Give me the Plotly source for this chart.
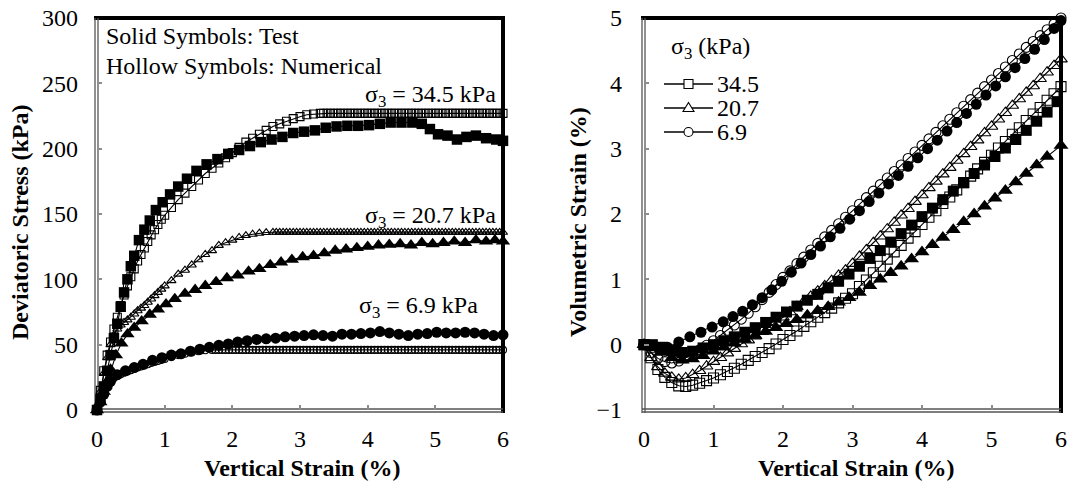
import plotly.graph_objects as go

# ---------------- data : deviatoric stress (kPa) vs vertical strain (%) ----------------
# numerical model (hollow symbols)
NUM345_X = [0, 0.05, 0.1, 0.15, 0.2, 0.25, 0.3, 0.35, 0.4, 0.45,
            0.5, 0.55, 0.6, 0.65, 0.7, 0.75, 0.8, 0.85, 0.9, 0.95,
            1.0, 1.1, 1.2, 1.3, 1.4, 1.5, 1.6, 1.7, 1.8, 1.9,
            2.0, 2.1, 2.2, 2.3, 2.4, 2.5, 2.6, 2.7, 2.8, 2.9,
            3.0, 3.1, 3.2, 3.3,
            3.35, 3.40, 3.45, 3.50, 3.55, 3.60, 3.65, 3.70, 3.75, 3.80,
            3.85, 3.90, 3.95, 4.00, 4.05, 4.10, 4.15, 4.20, 4.25, 4.30,
            4.35, 4.40, 4.45, 4.50, 4.55, 4.60, 4.65, 4.70, 4.75, 4.80,
            4.85, 4.90, 4.95, 5.00, 5.05, 5.10, 5.15, 5.20, 5.25, 5.30,
            5.35, 5.40, 5.45, 5.50, 5.55, 5.60, 5.65, 5.70, 5.75, 5.80,
            5.85, 5.90, 5.95, 6.00]
NUM345_Y = [0, 15, 30, 42, 52, 62, 71, 80, 88, 95,
            102, 108, 114, 119, 124, 129, 134, 138, 142, 146,
            149, 155, 161, 166, 171, 176, 181, 185, 189, 193,
            197, 201, 205, 208, 211, 214, 217, 219, 221, 223,
            224.5, 226, 226.5, 227,
            227, 227, 227, 227, 227, 227, 227, 227, 227, 227,
            227, 227, 227, 227, 227, 227, 227, 227, 227, 227,
            227, 227, 227, 227, 227, 227, 227, 227, 227, 227,
            227, 227, 227, 227, 227, 227, 227, 227, 227, 227,
            227, 227, 227, 227, 227, 227, 227, 227, 227, 227,
            227, 227, 227, 227]

NUM207_X = [0, 0.05, 0.1, 0.15, 0.2, 0.25, 0.3, 0.35, 0.4, 0.45,
            0.5, 0.55, 0.6, 0.65, 0.7, 0.75, 0.8, 0.85, 0.9, 0.95,
            1.0, 1.1, 1.2, 1.3, 1.4, 1.5, 1.6, 1.7, 1.8, 1.9,
            2.0, 2.1, 2.2, 2.3, 2.4, 2.5, 2.6,
            2.65, 2.70, 2.75, 2.80, 2.85, 2.90, 2.95, 3.00, 3.05, 3.10,
            3.15, 3.20, 3.25, 3.30,
            3.35, 3.40, 3.45, 3.50, 3.55, 3.60, 3.65, 3.70, 3.75, 3.80,
            3.85, 3.90, 3.95, 4.00, 4.05, 4.10, 4.15, 4.20, 4.25, 4.30,
            4.35, 4.40, 4.45, 4.50, 4.55, 4.60, 4.65, 4.70, 4.75, 4.80,
            4.85, 4.90, 4.95, 5.00, 5.05, 5.10, 5.15, 5.20, 5.25, 5.30,
            5.35, 5.40, 5.45, 5.50, 5.55, 5.60, 5.65, 5.70, 5.75, 5.80,
            5.85, 5.90, 5.95, 6.00]
NUM207_Y = [0, 14, 28, 40, 50, 57, 62, 65, 67, 69,
            71, 73.5, 76, 78, 80, 82.5, 85, 87.5, 90, 92.5,
            95, 99, 104, 107, 111, 115, 119, 122, 126, 128,
            130, 132, 133.5, 134.5, 135.3, 135.8, 136,
            136, 136, 136, 136, 136, 136, 136, 136, 136, 136,
            136, 136, 136, 136,
            136, 136, 136, 136, 136, 136, 136, 136, 136, 136,
            136, 136, 136, 136, 136, 136, 136, 136, 136, 136,
            136, 136, 136, 136, 136, 136, 136, 136, 136, 136,
            136, 136, 136, 136, 136, 136, 136, 136, 136, 136,
            136, 136, 136, 136, 136, 136, 136, 136, 136, 136,
            136, 136, 136, 136]

NUM69_X = [0, 0.05, 0.1, 0.15, 0.2, 0.25, 0.3, 0.35, 0.4, 0.45,
           0.5, 0.55, 0.6, 0.65, 0.7, 0.75, 0.8, 0.85, 0.9, 0.95,
           1.0, 1.1, 1.2, 1.3, 1.4, 1.5, 1.6, 1.7,
           1.75, 1.80, 1.85, 1.90, 1.95, 2.00, 2.05, 2.10, 2.15, 2.20,
           2.25, 2.30, 2.35, 2.40, 2.45, 2.50, 2.55, 2.60,
           2.65, 2.70, 2.75, 2.80, 2.85, 2.90, 2.95, 3.00, 3.05, 3.10,
           3.15, 3.20, 3.25, 3.30,
           3.35, 3.40, 3.45, 3.50, 3.55, 3.60, 3.65, 3.70, 3.75, 3.80,
           3.85, 3.90, 3.95, 4.00, 4.05, 4.10, 4.15, 4.20, 4.25, 4.30,
           4.35, 4.40, 4.45, 4.50, 4.55, 4.60, 4.65, 4.70, 4.75, 4.80,
           4.85, 4.90, 4.95, 5.00, 5.05, 5.10, 5.15, 5.20, 5.25, 5.30,
           5.35, 5.40, 5.45, 5.50, 5.55, 5.60, 5.65, 5.70, 5.75, 5.80,
           5.85, 5.90, 5.95, 6.00]
NUM69_Y = [0, 7, 13, 18, 22, 24.5, 26, 27.3, 28.5, 29.5,
           30.5, 31.5, 32.5, 33.3, 34, 35, 36, 36.8, 37.5, 38.3,
           39, 40.5, 42, 43, 44, 45, 45.7, 46,
           46, 46, 46, 46, 46, 46, 46, 46, 46, 46,
           46, 46, 46, 46, 46, 46, 46, 46,
           46, 46, 46, 46, 46, 46, 46, 46, 46, 46,
           46, 46, 46, 46,
           46, 46, 46, 46, 46, 46, 46, 46, 46, 46,
           46, 46, 46, 46, 46, 46, 46, 46, 46, 46,
           46, 46, 46, 46, 46, 46, 46, 46, 46, 46,
           46, 46, 46, 46, 46, 46, 46, 46, 46, 46,
           46, 46, 46, 46, 46, 46, 46, 46, 46, 46,
           46, 46, 46, 46]

# triaxial tests (solid symbols)
TEST345_X = [0, 0.05, 0.1, 0.15, 0.2, 0.25, 0.3, 0.35, 0.4, 0.45,
             0.5, 0.55, 0.62, 0.7, 0.78, 0.87, 0.97, 1.08, 1.2, 1.33,
             1.47, 1.62, 1.78, 1.94, 2.1, 2.26, 2.42, 2.58, 2.74, 2.9,
             3.06, 3.22, 3.38, 3.54, 3.7, 3.86, 4.02, 4.18, 4.34, 4.5,
             4.66, 4.8, 4.92, 5.04, 5.18, 5.32, 5.46, 5.6, 5.75, 5.9, 6.0]
TEST345_Y = [0, 8, 18, 30, 42, 55, 66, 79, 90, 100,
             110, 118, 130, 138, 145, 153, 159, 165, 171, 177,
             183, 188, 192, 196, 199, 202, 205, 207, 209, 212,
             213, 214, 216, 217, 217.5, 217.5, 218, 219, 220, 220,
             220, 219, 215, 211, 210, 207, 209, 210, 208, 207, 206]

TEST207_X = [0, 0.05, 0.1, 0.15, 0.2, 0.28, 0.36, 0.45, 0.55, 0.66,
             0.78, 0.9, 1.02, 1.15, 1.3, 1.45, 1.6, 1.76, 1.92, 2.08,
             2.24, 2.4, 2.56, 2.72, 2.88, 3.04, 3.2, 3.36, 3.52, 3.68,
             3.84, 4.0, 4.16, 4.32, 4.48, 4.64, 4.8, 4.96, 5.12, 5.28,
             5.44, 5.6, 5.75, 5.88, 6.0]
TEST207_Y = [0, 6, 14, 22, 31, 42, 51, 58, 63, 68,
             73, 77, 81, 85, 89, 92, 95, 98, 101, 103,
             106, 108, 111, 113, 115, 117, 118, 120, 122, 123,
             124, 125, 126, 126.5, 127, 126, 128, 127, 128, 129,
             128, 130, 129, 130, 129]

TEST69_X = [0, 0.05, 0.1, 0.15, 0.2, 0.3, 0.42, 0.55, 0.68, 0.82,
            0.96, 1.1, 1.24, 1.38, 1.52, 1.66, 1.8, 1.94, 2.08, 2.22,
            2.36, 2.5, 2.64, 2.78, 2.92, 3.06, 3.2, 3.34, 3.48, 3.62,
            3.76, 3.9, 4.04, 4.18, 4.32, 4.46, 4.6, 4.74, 4.88, 5.02,
            5.16, 5.3, 5.44, 5.58, 5.72, 5.86, 6.0]
TEST69_Y = [0, 6, 12, 18, 22, 27, 30, 32.5, 35, 38,
            40, 42, 43, 45, 46.5, 48, 49.5, 50.5, 52, 53,
            54, 54.5, 55, 56, 56.5, 57, 57.5, 57, 56.5, 58,
            58, 58.5, 59, 60, 59, 58, 57, 58, 58.5, 59.5,
            59, 59, 59.5, 59, 58, 57, 57.5]

# ---------------- data : volumetric strain (%) vs vertical strain (%) ----------------
VNUM_X = [0, 0.1, 0.2, 0.3, 0.4, 0.5, 0.6, 0.7, 0.8, 0.9,
          1.0, 1.1, 1.2, 1.3, 1.4, 1.5, 1.6, 1.7, 1.8, 1.9,
          2.0, 2.1, 2.2, 2.3, 2.4, 2.5, 2.6, 2.7, 2.8, 2.9,
          3.0, 3.1, 3.2, 3.3, 3.4, 3.5, 3.6, 3.7, 3.8, 3.9,
          4.0, 4.1, 4.2, 4.3, 4.4, 4.5, 4.6, 4.7, 4.8, 4.9,
          5.0, 5.1, 5.2, 5.3, 5.4, 5.5, 5.6, 5.7, 5.8, 5.9,
          6.0]
VNUM345_Y = [0, -0.2, -0.38, -0.5, -0.58, -0.63, -0.64, -0.62, -0.59, -0.55,
             -0.51, -0.46, -0.41, -0.36, -0.3, -0.24, -0.18, -0.12, -0.06, 0.01,
             0.08, 0.14, 0.21, 0.28, 0.35, 0.42, 0.49, 0.56, 0.64, 0.71,
             0.78, 0.89, 0.99, 1.1, 1.2, 1.31, 1.42, 1.52, 1.63, 1.73,
             1.84, 1.95, 2.05, 2.16, 2.26, 2.37, 2.48, 2.58, 2.69, 2.79,
             2.9, 3.01, 3.11, 3.22, 3.32, 3.43, 3.53, 3.63, 3.74, 3.84,
             3.95]
VNUM207_Y = [0, -0.2, -0.34, -0.44, -0.5, -0.53, -0.51, -0.46, -0.4, -0.33,
             -0.26, -0.2, -0.13, -0.06, 0.01, 0.07, 0.13, 0.2, 0.27, 0.34,
             0.42, 0.5, 0.58, 0.66, 0.74, 0.82, 0.9, 0.98, 1.06, 1.14,
             1.24, 1.35, 1.45, 1.56, 1.66, 1.77, 1.87, 1.98, 2.08, 2.19,
             2.29, 2.4, 2.5, 2.61, 2.71, 2.82, 2.92, 3.03, 3.13, 3.24,
             3.34, 3.45, 3.55, 3.66, 3.76, 3.86, 3.96, 4.07, 4.17, 4.27,
             4.37]
VNUM69_Y = [0, -0.12, -0.21, -0.26, -0.28, -0.25, -0.2, -0.14, -0.08, -0.01,
            0.06, 0.14, 0.22, 0.3, 0.39, 0.48, 0.58, 0.69, 0.8, 0.92,
            1.03, 1.13, 1.24, 1.34, 1.45, 1.55, 1.65, 1.75, 1.85, 1.95,
            2.05, 2.15, 2.25, 2.35, 2.45, 2.55, 2.65, 2.75, 2.85, 2.95,
            3.05, 3.15, 3.25, 3.35, 3.45, 3.55, 3.65, 3.75, 3.85, 3.95,
            4.05, 4.15, 4.25, 4.35, 4.45, 4.55, 4.64, 4.73, 4.82, 4.91,
            5.0]

VTEST345_X = [0, 0.12, 0.25, 0.4, 0.55, 0.7, 0.85, 1.0, 1.15, 1.3,
              1.45, 1.6, 1.75, 1.9, 2.05, 2.2, 2.35, 2.5, 2.65, 2.8,
              2.95, 3.1, 3.25, 3.4, 3.55, 3.7, 3.85, 4.0, 4.15, 4.3,
              4.45, 4.6, 4.75, 4.9, 5.05, 5.2, 5.35, 5.5, 5.65, 5.8,
              5.95]
VTEST345_Y = [0, 0, -0.04, -0.09, -0.12, -0.1, -0.05, 0.0, 0.06, 0.12,
              0.19, 0.26, 0.34, 0.42, 0.5, 0.59, 0.68, 0.77, 0.87, 0.97,
              1.08, 1.2, 1.32, 1.44, 1.57, 1.7, 1.83, 1.96, 2.09, 2.22,
              2.35, 2.48, 2.62, 2.75, 2.88, 3.01, 3.14, 3.28, 3.42, 3.56,
              3.72]

VTEST207_X = [0, 0.12, 0.25, 0.4, 0.55, 0.7, 0.85, 1.0, 1.15, 1.3,
              1.45, 1.6, 1.75, 1.9, 2.05, 2.2, 2.35, 2.5, 2.65, 2.8,
              2.95, 3.1, 3.25, 3.4, 3.55, 3.7, 3.85, 4.0, 4.15, 4.3,
              4.45, 4.6, 4.75, 4.9, 5.05, 5.2, 5.35, 5.5, 5.65, 5.8,
              6.0]
VTEST207_Y = [0, -0.05, -0.12, -0.2, -0.24, -0.22, -0.17, -0.1, -0.04, 0.02,
              0.08, 0.14, 0.2, 0.26, 0.32, 0.38, 0.45, 0.52, 0.58, 0.65,
              0.72, 0.8, 0.9, 1.0, 1.1, 1.2, 1.31, 1.42, 1.53, 1.64,
              1.76, 1.88, 2.0, 2.12, 2.24, 2.36, 2.49, 2.62, 2.75, 2.88,
              3.05]

VTEST69_X = [0, 0.08, 0.2, 0.34, 0.5, 0.66, 0.82, 0.98, 1.14, 1.28,
             1.42, 1.56, 1.7, 1.84, 1.98, 2.12, 2.26, 2.4, 2.54, 2.68,
             2.82, 2.96, 3.1, 3.24, 3.38, 3.52, 3.66, 3.8, 3.94, 4.08,
             4.22, 4.36, 4.5, 4.64, 4.78, 4.92, 5.06, 5.2, 5.34, 5.48,
             5.62, 5.76, 5.9, 6.0]
VTEST69_Y = [0, -0.02, -0.04, -0.04, 0.04, 0.12, 0.19, 0.27, 0.35, 0.43,
             0.51, 0.61, 0.72, 0.84, 0.97, 1.11, 1.25, 1.38, 1.51, 1.65,
             1.78, 1.92, 2.05, 2.19, 2.32, 2.46, 2.59, 2.73, 2.86, 3.0,
             3.13, 3.27, 3.4, 3.54, 3.68, 3.82, 3.96, 4.1, 4.24, 4.38,
             4.52, 4.67, 4.84, 4.96]

CONFINING_LABELS = ["34.5", "20.7", "6.9"]
X_TICKS = [0, 1, 2, 3, 4, 5, 6]
STRESS_TICKS = [0, 50, 100, 150, 200, 250, 300]
VOL_TICKS = [-1, 0, 1, 2, 3, 4, 5]

# ---------------- figure ----------------
W, H = 1070, 487
FONT = "Liberation Serif"


def fx(p):
    return p / W


def fy(p):
    return 1 - p / H


PANELS = {"left": dict(L=97, R=503, T=18, B=410),
          "right": dict(L=644, R=1061, T=18, B=410)}

fig = go.Figure()


def add_series(x, y, symbol, size, xa, ya, hollow):
    marker = dict(symbol=symbol, size=size, color="black")
    if hollow:
        marker = dict(symbol=symbol + "-open", size=size, color="black",
                      line=dict(width=1.1, color="black"))
    fig.add_trace(go.Scatter(x=x, y=y, mode="lines+markers", xaxis=xa, yaxis=ya,
                             line=dict(color="black", width=1.1), marker=marker,
                             cliponaxis=False, showlegend=False, hoverinfo="skip"))


# left panel
add_series(NUM345_X, NUM345_Y, "square", 8, "x", "y", True)
add_series(NUM207_X, NUM207_Y, "triangle-up", 8, "x", "y", True)
add_series(NUM69_X, NUM69_Y, "circle", 7, "x", "y", True)
add_series(TEST345_X, TEST345_Y, "square", 10.5, "x", "y", False)
add_series(TEST207_X, TEST207_Y, "triangle-up", 12.5, "x", "y", False)
add_series(TEST69_X, TEST69_Y, "circle", 11, "x", "y", False)

# right panel
add_series(VNUM_X, VNUM345_Y, "square", 10, "x2", "y2", True)
add_series(VNUM_X, VNUM207_Y, "triangle-up", 11, "x2", "y2", True)
add_series(VNUM_X, VNUM69_Y, "circle", 10, "x2", "y2", True)
add_series(VTEST345_X, VTEST345_Y, "square", 11, "x2", "y2", False)
add_series(VTEST207_X, VTEST207_Y, "triangle-up", 13, "x2", "y2", False)
add_series(VTEST69_X, VTEST69_Y, "circle", 11, "x2", "y2", False)

tick_font = dict(family=FONT, size=24, color="black")
axis_common = dict(showgrid=False, zeroline=False, showline=False, automargin=False,
                   ticks="inside", ticklen=5, tickwidth=1.5, tickcolor="#8c8c8c",
                   tickfont=tick_font, fixedrange=True)


def xdom(p):
    return [fx(p["L"]), fx(p["R"])]


def ydom(p):
    return [fy(p["B"]), fy(p["T"])]


lp, rp = PANELS["left"], PANELS["right"]
fig.update_layout(
    width=W, height=H, margin=dict(l=0, r=0, t=0, b=0, autoexpand=False),
    paper_bgcolor="white", plot_bgcolor="rgba(0,0,0,0)",
    xaxis=dict(domain=xdom(lp), range=[0, 6], tickvals=X_TICKS,
               ticklabelstandoff=12, anchor="y", **axis_common),
    yaxis=dict(domain=ydom(lp), range=[0, 300], tickvals=STRESS_TICKS,
               ticklabelstandoff=18, anchor="x", **axis_common),
    xaxis2=dict(domain=xdom(rp), range=[0, 6], tickvals=X_TICKS,
                ticklabelstandoff=12, anchor="y2", **axis_common),
    yaxis2=dict(domain=ydom(rp), range=[-1, 5], tickvals=VOL_TICKS,
                ticklabelstandoff=21, anchor="x2", **axis_common),
)

# plot-area frames: heavy black top/right edges, thin double grey left/bottom edges
shapes = []
for p in (lp, rp):
    L, R, T, B = p["L"], p["R"], p["T"], p["B"]
    shapes.append(dict(type="line", xref="paper", yref="paper",
                       x0=fx(L - 3), x1=fx(R + 2), y0=fy(T), y1=fy(T),
                       line=dict(color="black", width=4), layer="below"))
    shapes.append(dict(type="line", xref="paper", yref="paper",
                       x0=fx(R), x1=fx(R), y0=fy(T - 2), y1=fy(B + 3),
                       line=dict(color="black", width=4), layer="below"))
    for off in (-2, 1):
        shapes.append(dict(type="line", xref="paper", yref="paper",
                           x0=fx(L + off), x1=fx(L + off), y0=fy(T), y1=fy(B + 3),
                           line=dict(color="#555555", width=1.3), layer="below"))
        shapes.append(dict(type="line", xref="paper", yref="paper",
                           x0=fx(L - 2), x1=fx(R), y0=fy(B - off), y1=fy(B - off),
                           line=dict(color="#555555", width=1.3), layer="below"))

# key for the volumetric panel (line with hollow marker, numerical style)
key_rows = [84, 108, 132]
key_x0, key_x1, key_mx = 664, 713, 688.5
for row, sym in zip(key_rows, ["square", "triangle", "circle"]):
    shapes.append(dict(type="line", xref="paper", yref="paper",
                       x0=fx(key_x0), x1=fx(key_x1), y0=fy(row), y1=fy(row),
                       line=dict(color="black", width=1.3)))
    if sym == "square":
        shapes.append(dict(type="rect", xref="paper", yref="paper",
                           x0=fx(key_mx - 4.5), x1=fx(key_mx + 4.5),
                           y0=fy(row + 4.5), y1=fy(row - 4.5),
                           fillcolor="white", line=dict(color="black", width=1.1)))
    elif sym == "circle":
        shapes.append(dict(type="circle", xref="paper", yref="paper",
                           x0=fx(key_mx - 4.5), x1=fx(key_mx + 4.5),
                           y0=fy(row + 4.5), y1=fy(row - 4.5),
                           fillcolor="white", line=dict(color="black", width=1.1)))
    else:
        path = (f"M {fx(key_mx - 5.5)},{fy(row + 3.5)} "
                f"L {fx(key_mx + 5.5)},{fy(row + 3.5)} "
                f"L {fx(key_mx)},{fy(row - 5.5)} Z")
        shapes.append(dict(type="path", xref="paper", yref="paper", path=path,
                           fillcolor="white", line=dict(color="black", width=1.1)))
fig.update_layout(shapes=shapes)

txt = dict(family=FONT, size=24, color="black")
bold = dict(family=FONT, size=24, color="black", weight="bold")
ann = []


def note(x, y, text, xanchor="left", yanchor="middle", font=txt, angle=0, height=None):
    a = dict(x=fx(x), y=fy(y), xref="paper", yref="paper", text=text,
             showarrow=False, xanchor=xanchor, yanchor=yanchor,
             font=font, textangle=angle)
    if height:
        a["height"] = height
    ann.append(a)


note(104, 36, "Solid Symbols: Test", height=26)
note(104, 66, "Hollow Symbols: Numerical", height=26)
note(498, 96, "σ<sub>3</sub> = 34.5 kPa", xanchor="right")
note(498, 217, "σ<sub>3</sub> = 20.7 kPa", xanchor="right")
note(480, 307, "σ<sub>3</sub> = 6.9 kPa", xanchor="right")
note(669, 48, "σ<sub>3</sub> (kPa)")
for row, lab in zip(key_rows, CONFINING_LABELS):
    note(715, row, lab, height=22)

note(302, 468, "Vertical Strain (%)", xanchor="center", font=bold)
note(856, 468, "Vertical Strain (%)", xanchor="center", font=bold)
note(20, 222, "Deviatoric Stress (kPa)", xanchor="center", font=bold, angle=-90)
note(578, 222, "Volumetric Strain (%)", xanchor="center", font=bold, angle=-90)
fig.update_layout(annotations=ann)

fig.write_html("out.html")
